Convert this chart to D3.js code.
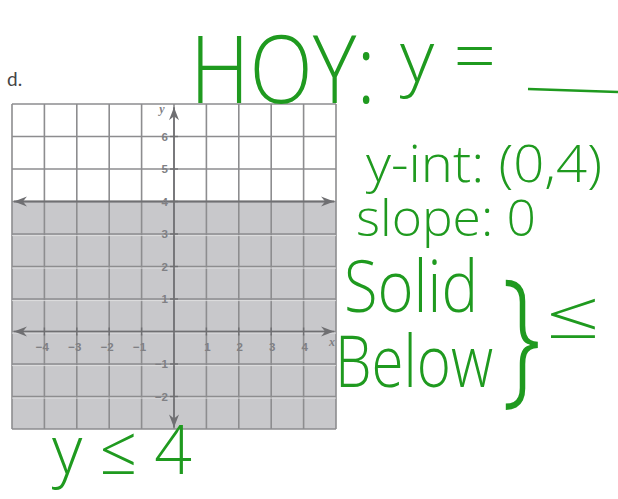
<!DOCTYPE html>
<html>
<head>
<meta charset="utf-8">
<script src="https://cdn.jsdelivr.net/npm/d3@7"></script>
<style>
  html, body { margin: 0; padding: 0; background: #fff; }
  svg { display: block; }
</style>
</head>
<body>
<svg id="chart" width="618" height="499"></svg>
<script>
// Coordinate plane for the inequality y <= 4
const xDomain = [-5, 5];
const yDomain = [-3, 7];
const xTickValues = [-4, -3, -2, -1, 1, 2, 3, 4];
const yTickValues = [-2, -1, 1, 2, 3, 4, 5, 6];
const gridValues = [-5, -4, -3, -2, -1, 0, 1, 2, 3, 4, 5];
const gridValuesY = [-3, -2, -1, 0, 1, 2, 3, 4, 5, 6, 7];
const boundaryY = 4;          // y = 4, solid line, shade below
const problemLabel = "d.";

// Worked notes written beside the graph
const noteLines = ["y-int: (0,4)", "slope: 0", "Solid", "Below"];
const titleNote = ["HOY:", "y ="];
const answerNote = "y ≤ 4";

const svg = d3.select("#chart");
const x = d3.scaleLinear().domain(xDomain).range([12, 336]);
const y = d3.scaleLinear().domain(yDomain).range([429, 104]);

const gridColor = "#8d8d8f";
const shade = "#c8c8cb";
const axisColor = "#6f6f72";
const labelColor = "#808084";

svg.append("text")
  .attr("x", 7).attr("y", 86)
  .attr("font-family", "Lato, 'DejaVu Sans', sans-serif")
  .attr("font-size", 19)
  .attr("fill", "#444")
  .text(problemLabel);

const plot = svg.append("g");

// shaded half-plane below the boundary
plot.append("rect")
  .attr("x", x(xDomain[0])).attr("y", y(boundaryY))
  .attr("width", x(xDomain[1]) - x(xDomain[0]))
  .attr("height", y(yDomain[0]) - y(boundaryY))
  .attr("fill", shade);

// grid
plot.append("g").selectAll("line").data(gridValues).join("line")
  .attr("x1", d => x(d)).attr("x2", d => x(d))
  .attr("y1", y(yDomain[1])).attr("y2", y(yDomain[0]))
  .attr("stroke", gridColor).attr("stroke-width", 1.6);
plot.append("g").selectAll("line").data(gridValuesY).join("line")
  .attr("y1", d => y(d)).attr("y2", d => y(d))
  .attr("x1", x(xDomain[0])).attr("x2", x(xDomain[1]))
  .attr("stroke", gridColor).attr("stroke-width", 1.6);

// white separating hairlines inside the shaded area (print look)
plot.append("g").selectAll("line").data(gridValuesY.filter(d => d < boundaryY && d > yDomain[0])).join("line")
  .attr("y1", d => y(d) + 1.6).attr("y2", d => y(d) + 1.6)
  .attr("x1", x(xDomain[0])).attr("x2", x(xDomain[1]))
  .attr("stroke", "#e2e2e4").attr("stroke-width", 0.8);

function arrowHead(g, tipX, tipY, angle) {
  // barbed arrowhead pointing in the direction of angle (degrees)
  g.append("path")
    .attr("d", "M0,0 L-13,-5 L-9,0 L-13,5 Z")
    .attr("transform", `translate(${tipX},${tipY}) rotate(${angle})`)
    .attr("fill", axisColor);
}

const axes = plot.append("g");
// x axis
axes.append("line")
  .attr("x1", x(-4.94)).attr("x2", x(4.94))
  .attr("y1", y(0)).attr("y2", y(0))
  .attr("stroke", axisColor).attr("stroke-width", 1.6);
arrowHead(axes, x(-4.94), y(0), 180);
arrowHead(axes, x(4.94), y(0), 0);
// y axis
axes.append("line")
  .attr("x1", x(0)).attr("x2", x(0))
  .attr("y1", y(6.9)).attr("y2", y(-2.95))
  .attr("stroke", axisColor).attr("stroke-width", 1.6);
arrowHead(axes, x(0), y(6.9), -90);
arrowHead(axes, x(0), y(-2.95), 90);

// boundary line y = 4
axes.append("line")
  .attr("x1", x(-4.94)).attr("x2", x(4.94))
  .attr("y1", y(boundaryY)).attr("y2", y(boundaryY))
  .attr("stroke", "#707073").attr("stroke-width", 2.2);
arrowHead(axes, x(-4.94), y(boundaryY), 180);
arrowHead(axes, x(4.94), y(boundaryY), 0);

// tick marks
axes.append("g").selectAll("line").data(yTickValues).join("line")
  .attr("x1", x(0) - 4).attr("x2", x(0) + 4)
  .attr("y1", d => y(d)).attr("y2", d => y(d))
  .attr("stroke", axisColor).attr("stroke-width", 1.4);
axes.append("g").selectAll("line").data(xTickValues).join("line")
  .attr("y1", y(0) - 4).attr("y2", y(0) + 4)
  .attr("x1", d => x(d)).attr("x2", d => x(d))
  .attr("stroke", axisColor).attr("stroke-width", 1.4);

const tickFont = "'Liberation Sans', Arial, sans-serif";
// y tick labels
axes.append("g").selectAll("text").data(yTickValues).join("text")
  .attr("x", x(0) - 6).attr("y", d => y(d) + 4)
  .attr("text-anchor", "end")
  .attr("font-family", tickFont).attr("font-weight", "bold")
  .attr("font-size", 11.5).attr("fill", labelColor)
  .text(d => d < 0 ? "\u2212" + Math.abs(d) : d);
// x tick labels
axes.append("g").selectAll("text").data(xTickValues).join("text")
  .attr("x", d => x(d) + (d < 0 ? -2 : 1)).attr("y", y(0) + 19)
  .attr("text-anchor", "middle")
  .attr("font-family", tickFont).attr("font-weight", "bold")
  .attr("font-size", 11.5).attr("fill", labelColor)
  .text(d => d < 0 ? "\u2212" + Math.abs(d) : d);

// axis names
axes.append("text")
  .attr("x", x(4.88)).attr("y", y(0) + 14)
  .attr("text-anchor", "middle")
  .attr("font-family", "'Liberation Serif', serif").attr("font-style", "italic")
  .attr("font-weight", "bold").attr("font-size", 12).attr("fill", labelColor)
  .text("x");
axes.append("text")
  .attr("x", x(0) - 12).attr("y", y(6.72))
  .attr("text-anchor", "middle")
  .attr("font-family", "'Liberation Serif', serif").attr("font-style", "italic")
  .attr("font-weight", "bold").attr("font-size", 12).attr("fill", labelColor)
  .text("y");

// handwritten notes
const green = "#1f9a1f";
const hand = "'Open Sans', 'DejaVu Sans', sans-serif";
const notes = svg.append("g").attr("fill", green).attr("font-family", hand).attr("font-weight", 300);

notes.append("text")
  .attr("x", 190).attr("y", 103)
  .attr("font-size", 94)
  .attr("textLength", 186).attr("lengthAdjust", "spacingAndGlyphs")
  .text(titleNote[0]);
notes.append("text")
  .attr("x", 400).attr("y", 82)
  .attr("font-size", 72)
  .attr("textLength", 96).attr("lengthAdjust", "spacingAndGlyphs")
  .text(titleNote[1]);
// answer blank
notes.append("line")
  .attr("x1", 528).attr("x2", 618).attr("y1", 89).attr("y2", 92)
  .attr("stroke", green).attr("stroke-width", 2.5);

const noteLayout = [
  { x: 366, y: 182, size: 52, len: 236 },
  { x: 356, y: 236, size: 50, len: 180 },
  { x: 344, y: 312, size: 72, len: 134 },
  { x: 335, y: 387, size: 72, len: 158 }
];
notes.selectAll("text.note").data(noteLines).join("text")
  .attr("class", "note")
  .attr("x", (d, i) => noteLayout[i].x)
  .attr("y", (d, i) => noteLayout[i].y)
  .attr("font-size", (d, i) => noteLayout[i].size)
  .attr("textLength", (d, i) => noteLayout[i].len)
  .attr("lengthAdjust", "spacingAndGlyphs")
  .text(d => d);

// brace joining "Solid" and "Below"
notes.append("text")
  .attr("x", 0).attr("y", 0)
  .attr("font-size", 100)
  .attr("transform", "translate(502,386) scale(1.1,1.5)")
  .text("}");
notes.append("text")
  .attr("x", 546).attr("y", 338)
  .attr("font-size", 66)
  .attr("textLength", 54).attr("lengthAdjust", "spacingAndGlyphs")
  .text("≤");

notes.append("text")
  .attr("x", 52).attr("y", 474)
  .attr("font-size", 68)
  .attr("textLength", 140).attr("lengthAdjust", "spacingAndGlyphs")
  .text(answerNote);
</script>
</body>
</html>
